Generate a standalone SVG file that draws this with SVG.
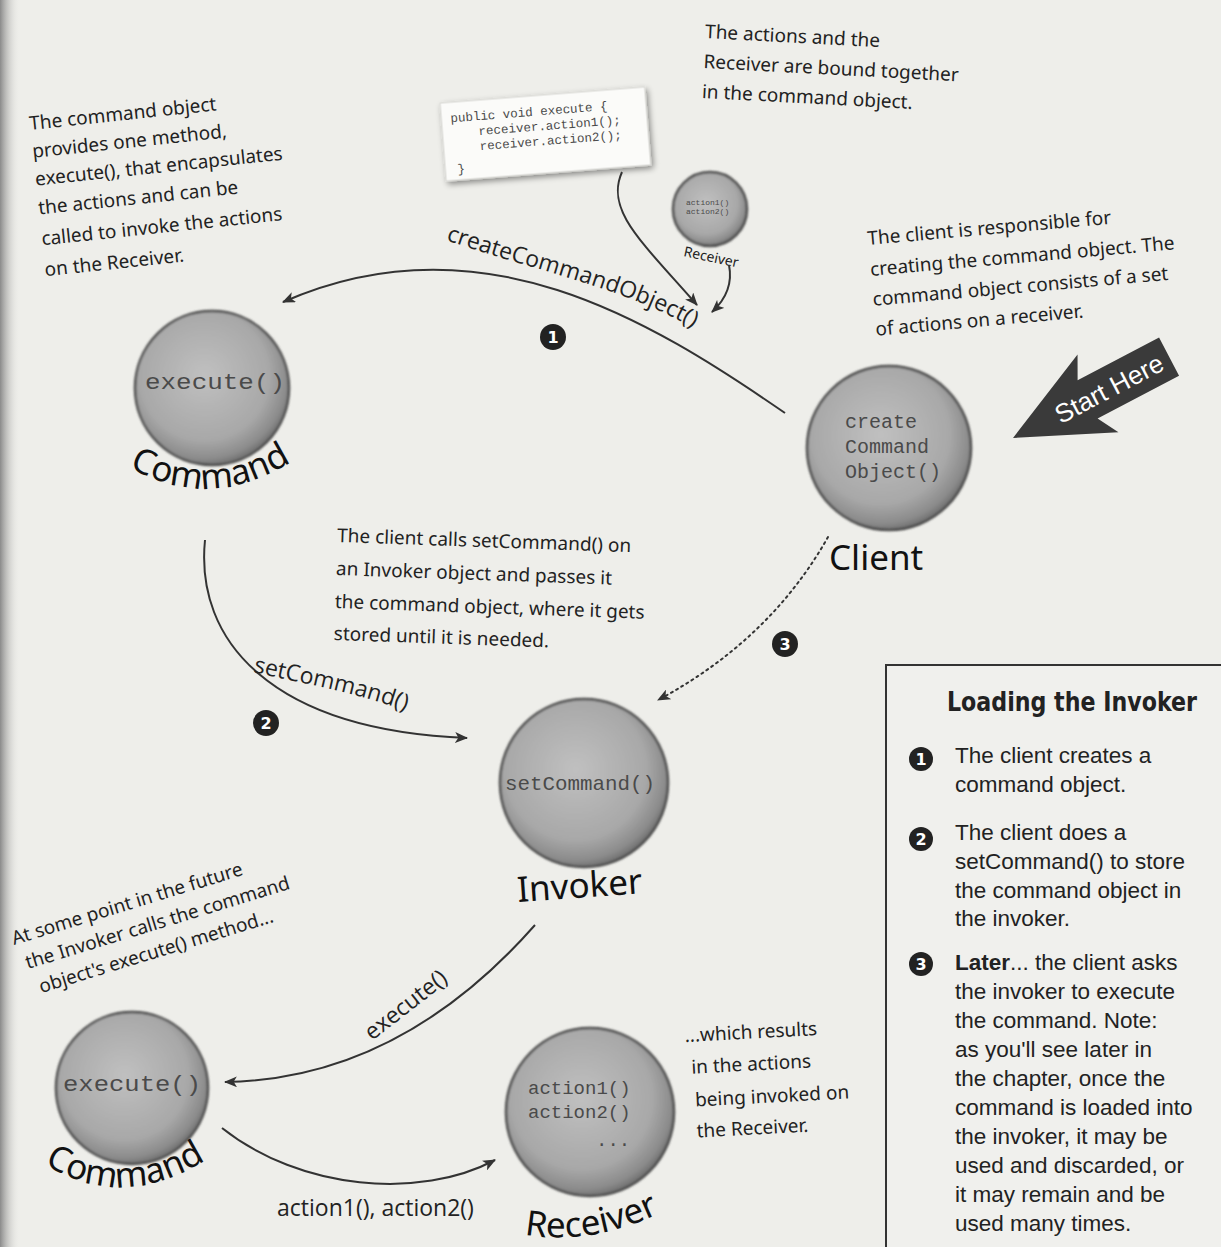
<svg xmlns="http://www.w3.org/2000/svg" width="1221" height="1247" viewBox="0 0 1221 1247">
<style>
.hand{font-family:"Noto Sans","DejaVu Sans",sans-serif;font-size:19px;fill:#222}
.lbl{font-family:"Open Sans","Noto Sans",sans-serif;font-size:23px;fill:#222}
.big{font-family:"Noto Sans","DejaVu Sans",sans-serif;font-size:35px;fill:#111}
.mono{font-family:"Liberation Mono",monospace;fill:#4a4a4a}
.conn{fill:none;stroke:#333;stroke-width:2}
.ball{fill:url(#ballGrad);stroke:#4a4a4a;stroke-width:2.5}
.badge{fill:#222}
.bnum{font-family:"DejaVu Sans",sans-serif;font-weight:bold;font-size:16px;fill:#fff;text-anchor:middle}
.box{font-family:"Liberation Sans",Arial,sans-serif;font-size:22.5px;fill:#222}
</style>
<defs>
<radialGradient id="ballGrad" cx="0.45" cy="0.42" r="0.6">
<stop offset="0" stop-color="#c0c0c0"/>
<stop offset="0.7" stop-color="#a8a8a8"/>
<stop offset="0.9" stop-color="#8b8b8b"/>
<stop offset="1" stop-color="#686868"/>
</radialGradient>
<linearGradient id="gutter" x1="0" y1="0" x2="1" y2="0">
<stop offset="0" stop-color="#8a8a8a"/>
<stop offset="1" stop-color="#eeeeea" stop-opacity="0"/>
</linearGradient>
<filter id="soft" x="-10%" y="-10%" width="120%" height="120%">
<feGaussianBlur stdDeviation="0.8"/>
</filter>
<filter id="shadow" x="-10%" y="-20%" width="130%" height="150%">
<feGaussianBlur in="SourceAlpha" stdDeviation="3"/>
<feOffset dx="2" dy="3"/>
<feComponentTransfer><feFuncA type="linear" slope="0.45"/></feComponentTransfer>
<feMerge><feMergeNode/><feMergeNode in="SourceGraphic"/></feMerge>
</filter>
<marker id="arr" viewBox="0 0 12 10" refX="11" refY="5" markerWidth="13" markerHeight="11" orient="auto" markerUnits="userSpaceOnUse">
<path d="M0,0 L12,5 L0,10 L3,5 z" fill="#333"/>
</marker>
<path id="pCreate" d="M 446 240 C 530 270, 640 290, 712 340"/>
<path id="pSet" d="M 253 672 C 310 685, 370 695, 424 718"/>
<path id="pCmdTop" d="M 120 462 Q 210 518 300 456"/>
<path id="pCmdBot" d="M 38 1160 Q 122 1216 212 1156"/>
<path id="pRecv" d="M 500 1228 Q 584 1256 682 1202"/>
</defs>

<rect x="0" y="0" width="1221" height="1247" fill="#eeeeea"/>
<rect x="0" y="0" width="20" height="1247" fill="url(#gutter)"/>

<!-- annotations -->
<g id="note-command" class="hand" transform="rotate(-6 30 130)">
<text x="30" y="130">The command object</text>
<text x="30" y="158">provides one method,</text>
<text x="30" y="186">execute(), that encapsulates</text>
<text x="30" y="215">the actions and can be</text>
<text x="30" y="246">called to invoke the actions</text>
<text x="30" y="277">on the Receiver.</text>
</g>
<g id="note-receiver" class="hand" transform="rotate(3 705 35)">
<text x="705" y="38">The actions and the</text>
<text x="705" y="68">Receiver are bound together</text>
<text x="705" y="98">in the command object.</text>
</g>
<g id="note-client" class="hand" transform="rotate(-5 868 245)">
<text x="868" y="245">The client is responsible for</text>
<text x="868" y="276">creating the command object. The</text>
<text x="868" y="306">command object consists of a set</text>
<text x="868" y="336">of actions on a receiver.</text>
</g>
<g id="note-set" class="hand" transform="rotate(2 337 542)">
<text x="337" y="542">The client calls setCommand() on</text>
<text x="337" y="575">an Invoker object and passes it</text>
<text x="337" y="608">the command object, where it gets</text>
<text x="337" y="640">stored until it is needed.</text>
</g>
<g id="note-future" class="hand" transform="rotate(-17 14 945)">
<text x="14" y="945">At some point in the future</text>
<text x="20" y="972">the Invoker calls the command</text>
<text x="26" y="999">object's execute() method...</text>
</g>
<g id="note-results" class="hand" transform="rotate(-3 685 1042)">
<text x="685" y="1042">...which results</text>
<text x="690" y="1074">in the actions</text>
<text x="692" y="1107">being invoked on</text>
<text x="692" y="1138">the Receiver.</text>
</g>

<!-- code box -->
<g id="node-code" transform="rotate(-4.5 545 135)">
<rect x="443" y="95" width="205" height="78" fill="#fbfbf9" stroke="#d8d8d4" stroke-width="1" filter="url(#shadow)"/>
<g class="mono" font-size="12.5" fill="#666">
<text x="452" y="115">public void execute {</text>
<text x="479" y="130">receiver.action1();</text>
<text x="479" y="145">receiver.action2();</text>
<text x="455" y="166">}</text>
</g>
</g>

<!-- small receiver -->
<g id="node-receiver-small">
<circle class="ball" cx="710" cy="209" r="37" filter="url(#soft)"/>
<text class="mono" font-size="8" x="686" y="205" fill="#666">action1()</text>
<text class="mono" font-size="8" x="686" y="214" fill="#666">action2()</text>
<text x="683" y="256" transform="rotate(12 683 256)" font-family="'Noto Sans',sans-serif" font-size="14" fill="#222">Receiver</text>
</g>

<!-- connectors -->
<g id="connectors">
<path class="conn" d="M 785 413 C 650 320, 480 215, 283 302" marker-end="url(#arr)"/>
<path class="conn" d="M 622 172 C 605 210, 640 240, 697 305" marker-end="url(#arr)"/>
<path class="conn" d="M 729 265 C 733 285, 725 300, 712 312" marker-end="url(#arr)"/>
<path class="conn" d="M 205 540 C 195 640, 270 730, 467 738" marker-end="url(#arr)"/>
<path class="conn" d="M 828 537 Q 770 640 658 700" stroke-dasharray="2 4" stroke-linecap="round" marker-end="url(#arr)"/>
<path class="conn" d="M 535 925 C 460 1010, 360 1080, 225 1082" marker-end="url(#arr)"/>
<path class="conn" d="M 222 1128 C 300 1190, 420 1200, 495 1160" marker-end="url(#arr)"/>
<text class="lbl" font-size="24"><textPath href="#pCreate">createCommandObject()</textPath></text>
<text class="lbl"><textPath href="#pSet">setCommand()</textPath></text>
<text class="lbl" x="372" y="1041" transform="rotate(-38 372 1041)">execute()</text>
<text class="lbl" x="277" y="1216">action1(), action2()</text>
<circle class="badge" cx="553" cy="337" r="13"/><text class="bnum" x="553" y="343">1</text>
<circle class="badge" cx="266" cy="723" r="13"/><text class="bnum" x="266" y="729">2</text>
<circle class="badge" cx="785" cy="644" r="13"/><text class="bnum" x="785" y="650">3</text>
</g>

<!-- nodes -->
<g id="node-command-top">
<circle class="ball" cx="212" cy="388" r="77" filter="url(#soft)"/>
<text class="mono" font-size="22" x="145" y="389" textLength="140" lengthAdjust="spacingAndGlyphs">execute()</text>
<text class="big" font-size="29" text-anchor="middle"><textPath href="#pCmdTop" startOffset="50%">Command</textPath></text>
</g>
<g id="node-client">
<circle class="ball" cx="889" cy="448" r="82" filter="url(#soft)"/>
<g class="mono" font-size="20">
<text x="845" y="428">create</text>
<text x="845" y="453">Command</text>
<text x="845" y="478">Object()</text>
</g>
<text class="big" font-size="37" x="829" y="570">Client</text>
</g>
<g id="node-invoker">
<circle class="ball" cx="584" cy="783" r="84" filter="url(#soft)"/>
<text class="mono" font-size="21" x="505" y="790" textLength="150" lengthAdjust="spacingAndGlyphs">setCommand()</text>
<text class="big" font-size="35" x="518" y="902" transform="rotate(-4 518 902)">Invoker</text>
</g>
<g id="node-command-bottom">
<circle class="ball" cx="132" cy="1088" r="76" filter="url(#soft)"/>
<text class="mono" font-size="22" x="63" y="1091" textLength="138" lengthAdjust="spacingAndGlyphs">execute()</text>
<text class="big" font-size="29" text-anchor="middle"><textPath href="#pCmdBot" startOffset="50%">Command</textPath></text>
</g>
<g id="node-receiver">
<circle class="ball" cx="590" cy="1112" r="84" filter="url(#soft)"/>
<g class="mono" font-size="19">
<text x="528" y="1094">action1()</text>
<text x="528" y="1118">action2()</text>
<text x="596" y="1146">...</text>
</g>
<text class="big" font-size="37" text-anchor="middle"><textPath href="#pRecv" startOffset="50%">Receiver</textPath></text>
</g>

<!-- start here arrow -->
<g id="start-here" transform="translate(1013 438) rotate(-27.7)">
<polygon points="0,0 96,-44 84,-21 176,-21 176,22 84,22 96,44" fill="#3a3a3a"/>
<text x="108" y="10" text-anchor="middle" font-family="'Liberation Sans',Arial,sans-serif" font-size="26" fill="#fff">Start Here</text>
</g>

<!-- loading the invoker box -->
<g id="loading-box">
<rect x="886" y="665" width="345" height="600" fill="#f0f0ed" stroke="#333" stroke-width="2"/>
<text x="947" y="711" font-family="'DejaVu Sans Condensed','DejaVu Sans',sans-serif" font-weight="bold" font-size="26" fill="#222" textLength="250" lengthAdjust="spacingAndGlyphs">Loading the Invoker</text>
<circle class="badge" cx="921" cy="759" r="12"/><text class="bnum" x="921" y="765" font-size="15">1</text>
<circle class="badge" cx="921" cy="839" r="12"/><text class="bnum" x="921" y="845" font-size="15">2</text>
<circle class="badge" cx="921" cy="964" r="12"/><text class="bnum" x="921" y="970" font-size="15">3</text>
<g class="box">
<text x="955" y="763">The client creates a</text>
<text x="955" y="792">command object.</text>
<text x="955" y="840">The client does a</text>
<text x="955" y="869">setCommand() to store</text>
<text x="955" y="898">the command object in</text>
<text x="955" y="926">the invoker.</text>
<text x="955" y="970"><tspan font-weight="bold">Later</tspan>... the client asks</text>
<text x="955" y="999">the invoker to execute</text>
<text x="955" y="1028">the command. Note:</text>
<text x="955" y="1057">as you'll see later in</text>
<text x="955" y="1086">the chapter, once the</text>
<text x="955" y="1115">command is loaded into</text>
<text x="955" y="1144">the invoker, it may be</text>
<text x="955" y="1173">used and discarded, or</text>
<text x="955" y="1202">it may remain and be</text>
<text x="955" y="1231">used many times.</text>
</g>
</g>
</svg>
